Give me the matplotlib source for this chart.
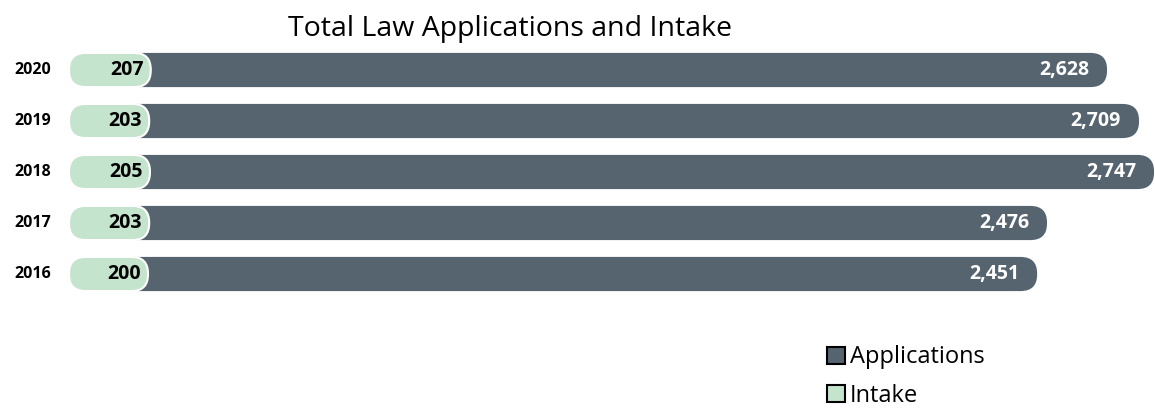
import matplotlib.pyplot as plt
from matplotlib.patches import FancyBboxPatch, Patch

years = ["2020", "2019", "2018", "2017", "2016"]
applications = [2628, 2709, 2747, 2476, 2451]
intake = [207, 203, 205, 203, 200]

DARK = "#566470"
GREEN = "#c5e4cd"

plt.rcParams["font.family"] = ["Open Sans", "DejaVu Sans"]

W, H = 1155, 409
fig = plt.figure(figsize=(W / 100, H / 100), dpi=100)

# axes placed in pixel terms: zero of x at 69 px, rows 51 px apart
x0_px, x1_px = 69, 1155
y_top, y_bot = 44.5, 299.5
ax = fig.add_axes([x0_px / W, 1 - y_bot / H, (x1_px - x0_px) / W, (y_bot - y_top) / H])
px_per_unit = 0.395
ax.set_xlim(0, (x1_px - x0_px) / px_per_unit)
ax.set_ylim(len(years) - 0.5, -0.5)
ax.axis("off")

row_px = (y_bot - y_top) / len(years)
bar_h = 0.67
radius_px = bar_h * row_px / 2 - 0.5
aspect = px_per_unit / row_px
rnd = radius_px / px_per_unit


def rounded_bar(y, value, color, **kw):
    p = FancyBboxPatch((0, y - bar_h / 2), value, bar_h,
                       boxstyle=f"round,pad=0,rounding_size={rnd}",
                       mutation_aspect=aspect, facecolor=color, **kw)
    ax.add_patch(p)


for i, (yr, a, n) in enumerate(zip(years, applications, intake)):
    rounded_bar(i, a, DARK, edgecolor="none", zorder=2)
    rounded_bar(i, n, GREEN, edgecolor="white", linewidth=1.5, zorder=3)
    ax.annotate(f"{a:,}", (a, i), xytext=(-13, 0), textcoords="offset points",
                ha="right", va="center", color="white", fontsize=14,
                fontweight="bold", zorder=4)
    ax.annotate(f"{n}", (n, i), xytext=(-5, 0), textcoords="offset points",
                ha="right", va="center", color="black", fontsize=14,
                fontweight="bold", zorder=4)
    ax.annotate(yr, (0, i), xytext=(-26, 0), textcoords="offset points",
                ha="center", va="center", color="black", fontsize=11.5,
                fontweight="bold", annotation_clip=False)

fig.text(510 / W, 1 - 29 / H, "Total Law Applications and Intake",
         ha="center", va="center", fontsize=20.5)

handles = [Patch(facecolor=DARK, edgecolor="black", linewidth=1.5, label="Applications"),
           Patch(facecolor=GREEN, edgecolor="black", linewidth=1.5, label="Intake")]
fig.legend(handles=handles, loc="upper left", bbox_to_anchor=(818 / W, 1 - 336 / H),
           frameon=False, fontsize=17, handlelength=0.75, handleheight=0.75,
           handletextpad=0.2, labelspacing=0.6, borderaxespad=0)

fig.savefig("out.png", dpi=100)
